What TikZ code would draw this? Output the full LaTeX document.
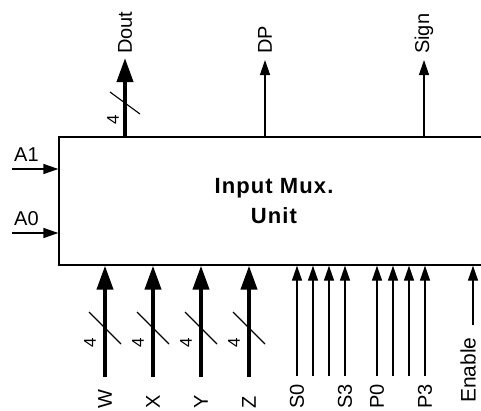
\documentclass[tikz,border=0pt]{standalone}
\usepackage{fontspec}
\setmainfont{Liberation Sans}
\usetikzlibrary{arrows.meta}
\begin{document}
\begin{tikzpicture}[x=1pt,y=-1pt,
  sigline/.style={line width=1.3pt,-{Triangle[length=15pt,width=10pt]}},
  busline/.style={line width=4pt,-{Triangle[length=24pt,width=16pt]}},
  slash/.style={line width=1.1pt},
  lab/.style={font=\fontsize{20}{24}\selectfont,inner sep=0pt},
  vlab/.style={lab,rotate=90,anchor=west},
  buswidth/.style={font=\fontsize{17}{20}\selectfont,inner sep=0pt,rotate=90},
  unitbox/.style={draw,line width=1.3pt,minimum width=430pt,minimum height=128pt,inner sep=0pt,
    font=\fontsize{22}{30}\selectfont\bfseries\addfontfeatures{LetterSpace=5},align=center}]
\useasboundingbox (0,0) rectangle (481,410);
\clip (0,0) rectangle (481,410);
\node[unitbox] (box) at (274,201) {Input Mux.\\Unit};
% top outputs
\coordinate (dout) at (125,58);
\coordinate (dp) at (265,60);
\coordinate (sign) at (424,60);
\draw[busline] (dout |- box.north) -- (dout);
\draw[sigline] (dp |- box.north) -- (dp);
\draw[sigline] (sign |- box.north) -- (sign);
\node[vlab] (ldout) at (125,54) {Dout};
\node[vlab] (ldp) at (265,54) {DP};
\node[vlab] (lsign) at (424,54) {Sign};
\draw[slash] (110,92) -- (140,114);
\node[buswidth] (ndout) at (113,120) {4};
% left inputs
\coordinate (a1) at (12,169);
\coordinate (a0) at (12,233);
\draw[sigline] (a1) -- (a1 -| box.west);
\draw[sigline] (a0) -- (a0 -| box.west);
\node[lab,anchor=base west] (la1) at (14,161) {A1};
\node[lab,anchor=base west] (la0) at (14,225) {A0};
% bottom bus inputs
\foreach \n/\x in {W/105,X/153,Y/201,Z/249}{
  \coordinate (b\n) at (\x,377);
  \draw[busline] (b\n) -- (b\n |- box.south);
  \draw[slash] (\x-16,312) -- (\x+16,344);
  \node[buswidth] (n\n) at (\x-15,343) {4};
  \node[vlab] (l\n) at (\x,409) {\n};
}
% bottom single inputs
\foreach \n/\x in {s0/297,s1/313,s2/329,s3/345,p0/377,p1/393,p2/409,p3/425}{
  \coordinate (c\n) at (\x,376);
  \draw[sigline] (c\n) -- (c\n |- box.south);
}
\node[vlab] (ls0) at (297,409) {S0};
\node[vlab] (ls3) at (345,409) {S3};
\node[vlab] (lp0) at (377,409) {P0};
\node[vlab] (lp3) at (425,409) {P3};
\coordinate (en) at (473,325);
\draw[sigline] (en) -- (en |- box.south);
\node[vlab,font=\fontsize{21}{24}\selectfont] (len) at (468,403) {Enable};
\end{tikzpicture}
\end{document}
